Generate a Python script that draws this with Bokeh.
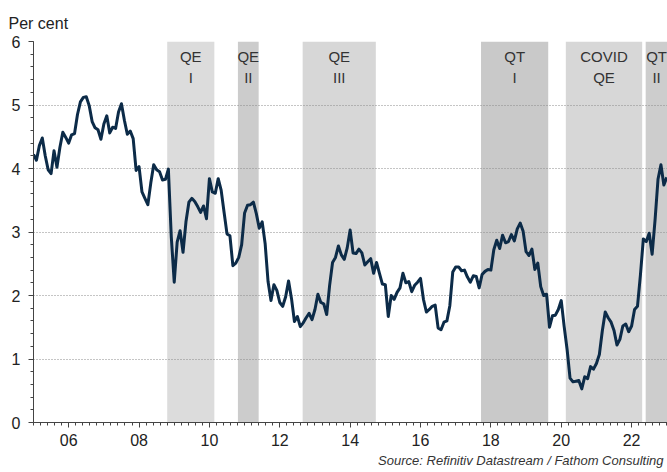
import numpy as np
from bokeh.plotting import figure
from bokeh.models import FixedTicker, Range1d, Title
from bokeh.core.properties import value
from bokeh.embed import file_html
from bokeh.resources import INLINE

# US 10-year yield, month-end values (per cent); first value is Dec 2004
dec_2004 = [4.22]
y2005 = [4.13, 4.36, 4.48, 4.20, 3.98, 3.92, 4.28, 4.02, 4.33, 4.57, 4.49, 4.40]
y2006 = [4.53, 4.55, 4.85, 5.05, 5.12, 5.13, 4.99, 4.74, 4.64, 4.61, 4.46, 4.70]
y2007 = [4.83, 4.56, 4.65, 4.63, 4.89, 5.02, 4.76, 4.54, 4.59, 4.47, 3.97, 4.03]
y2008 = [3.63, 3.53, 3.43, 3.77, 4.06, 3.98, 3.95, 3.82, 3.83, 3.99, 2.92, 2.21]
y2009 = [2.84, 3.02, 2.68, 3.16, 3.47, 3.53, 3.48, 3.40, 3.31, 3.41, 3.21, 3.84]
y2010 = [3.63, 3.61, 3.84, 3.66, 3.31, 2.97, 2.94, 2.47, 2.51, 2.60, 2.80, 3.30]
y2011 = [3.42, 3.43, 3.47, 3.29, 3.06, 3.16, 2.82, 2.22, 1.92, 2.17, 2.08, 1.89]
y2012 = [1.83, 1.98, 2.23, 1.95, 1.59, 1.67, 1.51, 1.57, 1.65, 1.72, 1.62, 1.78]
y2013 = [2.02, 1.89, 1.87, 1.70, 2.16, 2.52, 2.60, 2.78, 2.64, 2.57, 2.75, 3.03]
y2014 = [2.67, 2.66, 2.73, 2.67, 2.48, 2.53, 2.58, 2.35, 2.52, 2.35, 2.18, 2.17]
y2015 = [1.67, 2.00, 1.94, 2.05, 2.12, 2.35, 2.20, 2.22, 2.06, 2.16, 2.21, 2.27]
y2016 = [1.94, 1.74, 1.78, 1.83, 1.85, 1.49, 1.46, 1.58, 1.60, 1.84, 2.37, 2.45]
y2017 = [2.45, 2.39, 2.40, 2.29, 2.21, 2.31, 2.30, 2.12, 2.33, 2.38, 2.41, 2.40]
y2018 = [2.72, 2.87, 2.74, 2.95, 2.83, 2.85, 2.96, 2.86, 3.05, 3.14, 3.01, 2.69]
y2019 = [2.63, 2.73, 2.41, 2.51, 2.14, 2.00, 2.02, 1.50, 1.68, 1.69, 1.78, 1.92]
y2020 = [1.51, 1.15, 0.70, 0.64, 0.65, 0.66, 0.53, 0.72, 0.69, 0.88, 0.84, 0.93]
y2021 = [1.07, 1.44, 1.74, 1.65, 1.58, 1.45, 1.22, 1.31, 1.52, 1.55, 1.43, 1.52]
y2022 = [1.78, 1.83, 2.32, 2.89, 2.85, 2.98, 2.65, 3.19, 3.83, 4.06, 3.74, 3.86]

yearly = [y2005, y2006, y2007, y2008, y2009, y2010, y2011, y2012, y2013,
          y2014, y2015, y2016, y2017, y2018, y2019, y2020, y2021, y2022]
first_year = 2005

# Policy episodes (decimal years)
band_start = [2008.80, 2010.81, 2012.65, 2017.72, 2020.13, 2022.40]
band_end = [2010.14, 2011.40, 2014.73, 2019.63, 2022.30, 2023.02]
band_top = ["QE", "QE", "QE", "QT", "COVID", "QT"]
band_bottom = ["I", "II", "III", "I", "QE", "II"]
band_colors = ["#dcdcdc", "#cccccc", "#d7d7d7", "#c9c9c9", "#d7d7d7", "#cdcdcd"]

x_ticks = [2006, 2008, 2010, 2012, 2014, 2016, 2018, 2020, 2022]
x_tick_labels = ["06", "08", "10", "12", "14", "16", "18", "20", "22"]
y_ticks = [0, 1, 2, 3, 4, 5, 6]

# month-end positions
xs = [float(first_year)]
ys = list(dec_2004)
for i, vals in enumerate(yearly):
    for m, v in enumerate(vals):
        xs.append(first_year + i + (m + 1) / 12.0)
        ys.append(v)

x_min, x_max = 2005.0, 2023.02
y_min, y_max = 0, 6

FONT = "Liberation Sans"

p = figure(width=667, height=472, output_backend="svg", toolbar_location=None,
           x_range=Range1d(x_min, x_max), y_range=Range1d(y_min, y_max),
           min_border_left=33, min_border_right=0, min_border_top=41,
           min_border_bottom=50)
p.outline_line_color = None
p.background_fill_color = "white"
p.border_fill_color = "white"

mids = [(a + b) / 2 for a, b in zip(band_start, band_end)]
p.quad(left=band_start, right=band_end, bottom=y_min, top=y_max,
       fill_color=band_colors, line_color=None, level="image")

p.text(x=mids, y=[y_max] * len(mids), text=band_top, text_align="center",
       text_baseline="alphabetic", y_offset=15, text_font=value(FONT),
       text_font_size="15px", text_color="#333333")
p.text(x=mids, y=[y_max] * len(mids), text=band_bottom, text_align="center",
       text_baseline="alphabetic", y_offset=36, text_font=value(FONT),
       text_font_size="15px", text_color="#333333")

p.line(xs, ys, line_color="#0c2b48", line_width=3, line_join="round")

# grid
p.xgrid.visible = False
p.ygrid.grid_line_color = "#8a8a8a"
p.ygrid.grid_line_dash = "1 2"
p.ygrid.grid_line_width = 1

# axes
p.xaxis.ticker = FixedTicker(ticks=x_ticks,
                             minor_ticks=list(np.arange(2005.0, 2023.01, 0.2)))
p.xaxis.major_label_overrides = {t: l for t, l in zip(x_ticks, x_tick_labels)}
p.yaxis.ticker = FixedTicker(ticks=y_ticks,
                             minor_ticks=list(np.arange(0, 6.01, 0.2)))
for ax in (p.xaxis, p.yaxis):
    ax.axis_line_color = "#444444"
    ax.major_tick_line_color = "#444444"
    ax.minor_tick_line_color = "#444444"
    ax.major_tick_out = 5
    ax.major_tick_in = 0
    ax.minor_tick_out = 3
    ax.minor_tick_in = 0
    ax.major_label_text_font = FONT
    ax.major_label_text_font_size = "16px"
    ax.major_label_text_color = "#222222"
p.xaxis.major_label_standoff = 6
p.yaxis.major_label_standoff = 8

p.add_layout(Title(text="Per cent", align="left", offset=-25, standoff=19,
                   text_font=FONT, text_font_size="16px",
                   text_font_style="normal", text_color="#222222"), "above")
p.add_layout(Title(text="Source: Refinitiv Datastream / Fathom Consulting",
                   align="right", offset=4, standoff=4,
                   text_font=FONT, text_font_size="13px",
                   text_font_style="italic", text_color="#333333"), "below")

open("out.html", "w").write(file_html(p, INLINE))
